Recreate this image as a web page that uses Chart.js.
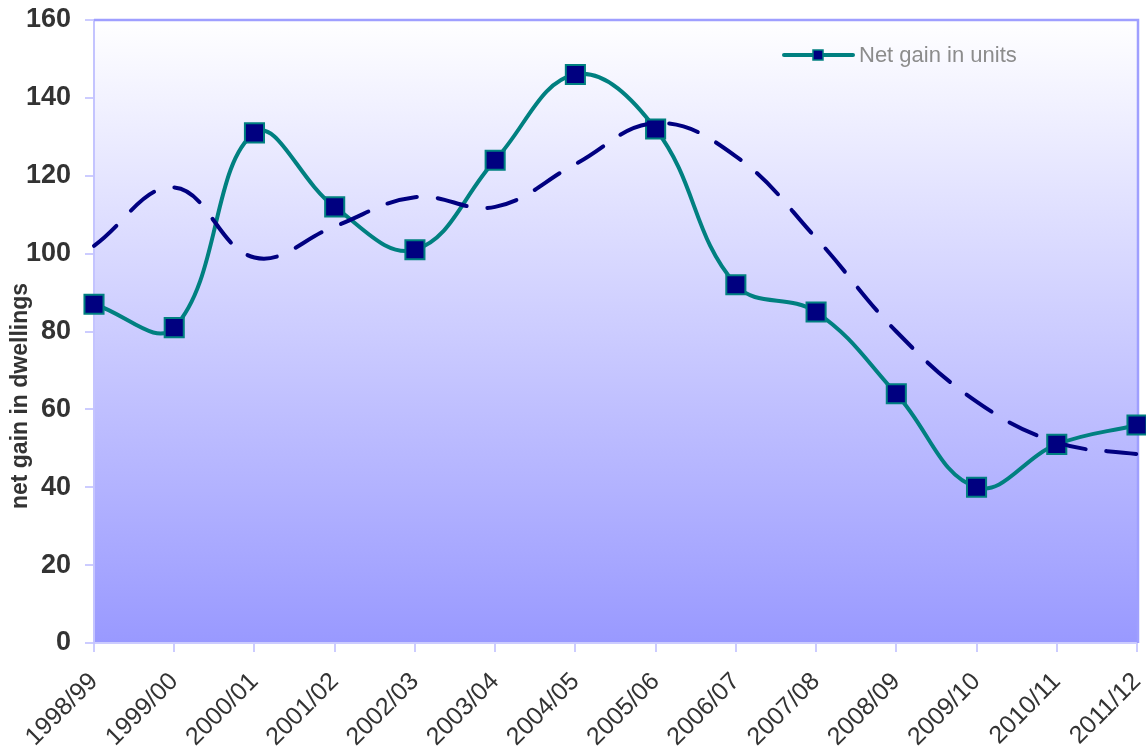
<!DOCTYPE html>
<html>
<head>
<meta charset="utf-8">
<style>
    html, body { margin: 0; padding: 0; background: #ffffff; }
    #wrap { width: 1146px; height: 755px; }
</style>
<script src="https://cdn.jsdelivr.net/npm/chart.js@4/dist/chart.umd.min.js"></script>
</head>
<body>
<div id="wrap"><canvas id="gainChart" width="1146" height="755"></canvas></div>
<script>
// ==================== DATA ====================
const years = ['1998/99', '1999/00', '2000/01', '2001/02', '2002/03', '2003/04', '2004/05',
    '2005/06', '2006/07', '2007/08', '2008/09', '2009/10', '2010/11', '2011/12'];
const netGain = [87, 81, 131, 112, 101, 124, 146, 132, 92, 85, 64, 40, 51, 56];
const trendGain = [102, 117, 99, 107, 114.5, 112, 123, 133.5, 125, 104, 80, 62, 51.5, 48.5];
const yTicks = [0, 20, 40, 60, 80, 100, 120, 140, 160];

const TEAL = '#008080';
const NAVY = '#000080';
const FONT = "'Liberation Sans', Arial, sans-serif";

// plot background + frame
const plotBackground = {
    id: 'plotBackground',
    beforeDraw(chart) {
        const { ctx, chartArea: a } = chart;
        const grad = ctx.createLinearGradient(0, a.top, 0, a.bottom);
        grad.addColorStop(0, '#ffffff');
        grad.addColorStop(1, '#9999ff');
        ctx.save();
        ctx.fillStyle = grad;
        ctx.fillRect(a.left, a.top, a.right - a.left, a.bottom - a.top);
        ctx.restore();
    },
    beforeDatasetsDraw(chart) {
        const { ctx, chartArea: a } = chart;
        ctx.save();
        ctx.strokeStyle = '#9f9fff';
        ctx.lineWidth = 2.5;
        ctx.beginPath();
        ctx.moveTo(a.left, a.top);
        ctx.lineTo(a.right + 1, a.top);
        ctx.lineTo(a.right + 1, a.bottom);
        ctx.stroke();
        ctx.restore();
    }
};

// y title and legend drawn inside the chart
const extraText = {
    id: 'extraText',
    afterDraw(chart) {
        const ctx = chart.ctx;
        ctx.save();
        ctx.translate(21, 396);
        ctx.rotate(-Math.PI / 2);
        ctx.font = `bold 23px ${FONT}`;
        ctx.fillStyle = '#333333';
        ctx.textAlign = 'center';
        ctx.textBaseline = 'middle';
        ctx.fillText('net gain in dwellings', 0, 0);
        ctx.restore();

        // legend
        const ly = 55;
        ctx.save();
        ctx.strokeStyle = TEAL;
        ctx.lineWidth = 4;
        ctx.lineCap = 'round';
        ctx.beginPath();
        ctx.moveTo(784, ly);
        ctx.lineTo(853, ly);
        ctx.stroke();
        ctx.fillStyle = NAVY;
        ctx.fillRect(813, ly - 5, 10, 10);
        ctx.strokeStyle = TEAL;
        ctx.lineWidth = 1.5;
        ctx.strokeRect(813, ly - 5, 10, 10);
        ctx.font = `22px ${FONT}`;
        ctx.fillStyle = '#8c8c8c';
        ctx.textAlign = 'left';
        ctx.textBaseline = 'middle';
        ctx.fillText('Net gain in units', 859, ly + 1);
        ctx.restore();
    }
};

new Chart(document.getElementById('gainChart').getContext('2d'), {
    type: 'line',
    data: {
        labels: years,
        datasets: [{
            label: 'Trend',
            data: trendGain,
            borderColor: NAVY,
            borderWidth: 4,
            borderDash: [30, 21],
            borderCapStyle: 'round',
            pointRadius: 0,
            tension: 0.4,
            fill: false,
            clip: false
        }, {
            label: 'Net gain in units',
            data: netGain,
            borderColor: TEAL,
            borderWidth: 4,
            pointStyle: 'rect',
            pointRadius: 13.5,
            pointBackgroundColor: NAVY,
            pointBorderColor: TEAL,
            pointBorderWidth: 2,
            tension: 0.4,
            fill: false,
            clip: false
        }]
    },
    options: {
        responsive: false,
        animation: false,
        layout: { autoPadding: false, padding: { left: 0, top: 20, right: 9, bottom: 0 } },
        plugins: {
            legend: { display: false },
            tooltip: { enabled: false }
        },
        scales: {
            x: {
                offset: false,
                grid: { drawOnChartArea: false, color: '#ccccff', lineWidth: 2, tickLength: 9 },
                border: { color: '#ccccff', width: 2 },
                ticks: {
                    color: '#333333',
                    font: { family: FONT, size: 25 },
                    minRotation: 45,
                    maxRotation: 45,
                    padding: 15,
                    autoSkip: false
                },
                afterFit: (scale) => {
                    scale.height = 112;
                    scale.paddingLeft = 0;
                    scale.paddingRight = 0;
                }
            },
            y: {
                min: 0,
                max: 160,
                afterBuildTicks: (scale) => { scale.ticks = yTicks.map(v => ({ value: v })); },
                grid: { drawOnChartArea: false, color: '#ccccff', lineWidth: 2, tickLength: 9 },
                border: { color: '#c4c4ff', width: 2 },
                ticks: {
                    color: '#333333',
                    font: { family: FONT, size: 27, weight: 'bold' },
                    padding: 14
                },
                afterFit: (scale) => {
                    scale.width = 94;
                    scale.paddingTop = 0;
                    scale.paddingBottom = 0;
                }
            }
        }
    },
    plugins: [plotBackground, extraText]
});
</script>
</body>
</html>
